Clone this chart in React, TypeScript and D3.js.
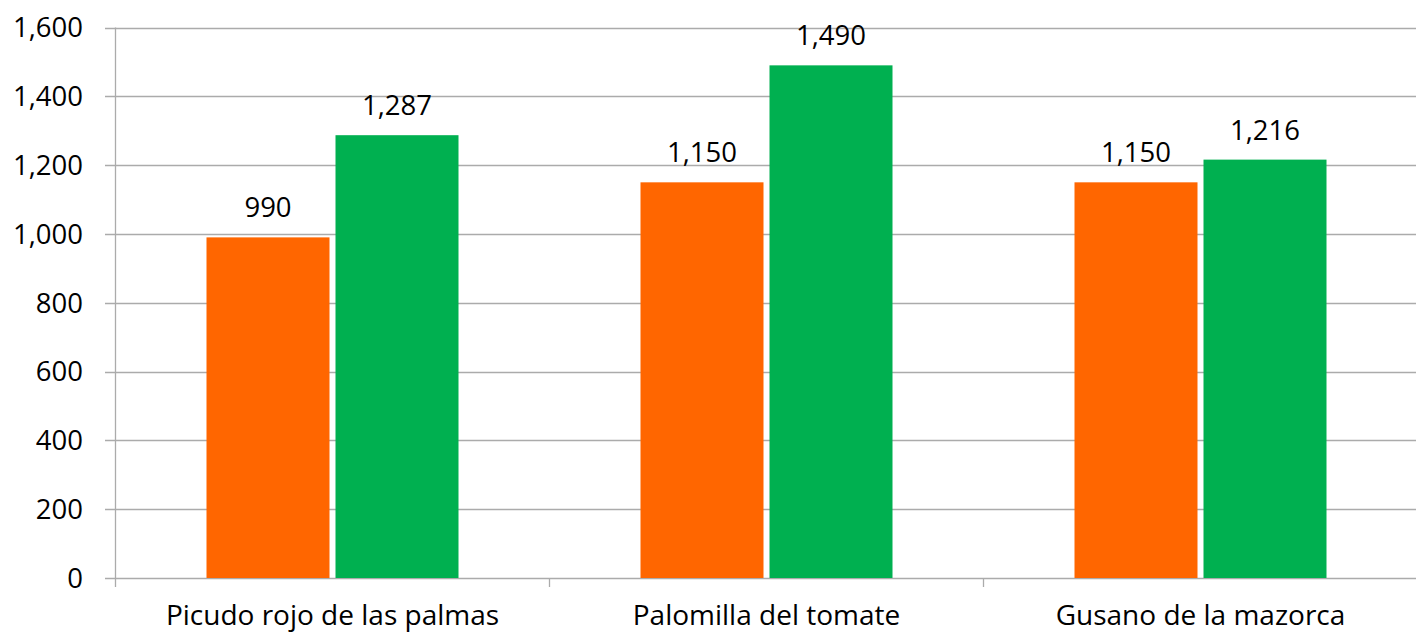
import * as d3 from "d3";

const categories = ["Picudo rojo de las palmas", "Palomilla del tomate", "Gusano de la mazorca"];
const seriesA = [990, 1150, 1150];
const seriesB = [1287, 1490, 1216];
const yTicks = [0, 200, 400, 600, 800, 1000, 1200, 1400, 1600];

const W = 1416;
const H = 632;
const FONT = "'Open Sans', sans-serif";

export default function App() {
  const left = 115.5;
  const right = 1417.5;
  const top = 27.5;
  const bottom = 578;

  const x = d3.scaleBand<string>().domain(categories).range([left, right]);
  const y = d3.scaleLinear().domain([0, 1600]).range([bottom, top]);
  const fmt = d3.format(",");

  const barW = 123;
  const gap = 6;
  const colors = ["#FF6600", "#00B050"];
  const series = [seriesA, seriesB];

  return (
    <svg
      width={W}
      height={H}
      viewBox={`0 0 ${W} ${H}`}
      style={{ position: "absolute", left: 0, top: 0, background: "#fff" }}
      fontFamily={FONT}
    >
      {/* gridlines + y labels */}
      {yTicks.map((t) => (
        <g key={t}>
          <line x1={105} x2={W} y1={Math.round(y(t)) + 0.5} y2={Math.round(y(t)) + 0.5} stroke="#ababab" strokeWidth={1.3} />
          <text x={83} y={y(t)} dy="0.36em" textAnchor="end" fontSize={27.5} fill="#000">
            {fmt(t)}
          </text>
        </g>
      ))}
      {/* y axis */}
      <line x1={left} x2={left} y1={top} y2={bottom + 9} stroke="#ababab" strokeWidth={1.3} />
      {/* category ticks */}
      {categories.map((c) => (
        <line
          key={c}
          x1={(x(c) ?? 0) + x.bandwidth()}
          x2={(x(c) ?? 0) + x.bandwidth()}
          y1={bottom}
          y2={bottom + 9}
          stroke="#ababab"
          strokeWidth={1.3}
        />
      ))}
      {/* bars */}
      {categories.map((c, i) => {
        const cx = (x(c) ?? 0) + x.bandwidth() / 2;
        return series.map((s, j) => {
          const bx = j === 0 ? cx - gap / 2 - barW : cx + gap / 2;
          return (
            <g key={c + j}>
              <rect x={bx} y={y(s[i])} width={barW} height={bottom - y(s[i])} fill={colors[j]} />
              <text x={bx + barW / 2} y={y(s[i]) - 20} textAnchor="middle" fontSize={27.5} fill="#000">
                {fmt(s[i])}
              </text>
            </g>
          );
        });
      })}
      {/* x labels */}
      {categories.map((c) => (
        <text key={c} x={(x(c) ?? 0) + x.bandwidth() / 2} y={625} textAnchor="middle" fontSize={28} fill="#000">
          {c}
        </text>
      ))}
    </svg>
  );
}
